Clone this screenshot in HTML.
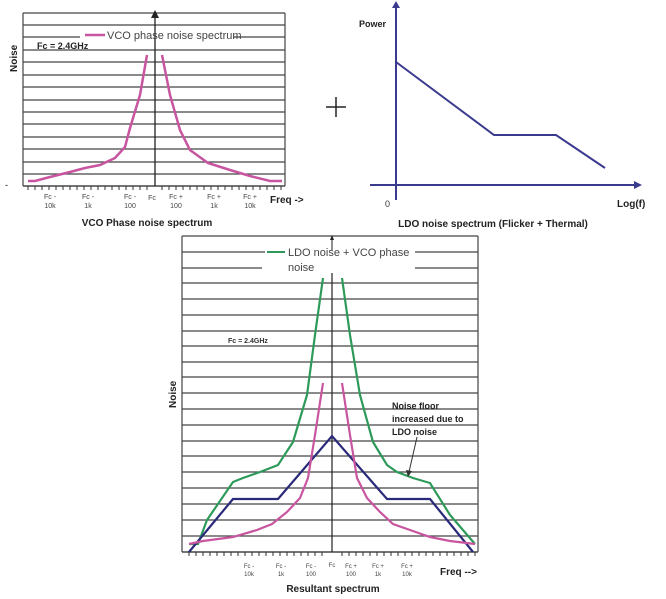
<!DOCTYPE html>
<html><head><meta charset="utf-8"><style>body{margin:0;background:#fff}svg{display:block}text{font-family:"Liberation Sans",sans-serif}</style></head><body>
<svg width="666" height="599" viewBox="0 0 666 599" xmlns="http://www.w3.org/2000/svg">
<g stroke="#444" stroke-width="1.2">
<line x1="23" y1="13" x2="285" y2="13"/><line x1="23" y1="25" x2="285" y2="25"/><line x1="23" y1="37" x2="80" y2="37"/><line x1="233" y1="37" x2="285" y2="37"/><line x1="23" y1="50" x2="285" y2="50"/><line x1="23" y1="62" x2="285" y2="62"/><line x1="23" y1="75" x2="285" y2="75"/><line x1="23" y1="87" x2="285" y2="87"/><line x1="23" y1="100" x2="285" y2="100"/><line x1="23" y1="112" x2="285" y2="112"/><line x1="23" y1="124" x2="285" y2="124"/><line x1="23" y1="137" x2="285" y2="137"/><line x1="23" y1="149" x2="285" y2="149"/><line x1="23" y1="162" x2="285" y2="162"/><line x1="23" y1="174" x2="285" y2="174"/>
<line x1="23" y1="186" x2="285" y2="186" stroke="#222"/>
<line x1="23" y1="13" x2="23" y2="186"/><line x1="285" y1="13" x2="285" y2="186"/>
</g>
<line x1="155" y1="16" x2="155" y2="186" stroke="#222" stroke-width="1.3"/>
<polygon points="151,18 159,18 155,10" fill="#222"/>
<g stroke="#333" stroke-width="1">
<path d="M28 186v4M35 186v4M42 186v4M49 186v4M56 186v4M63 186v4M70 186v4M77 186v4M84 186v4M91 186v4M98 186v4M105 186v4M112 186v4M119 186v4M126 186v4M133 186v4M140 186v4M147 186v4M162 186v4M169 186v4M176 186v4M183 186v4M190 186v4M197 186v4M204 186v4M211 186v4M218 186v4M225 186v4M232 186v4M239 186v4M246 186v4M253 186v4M260 186v4M267 186v4M274 186v4M281 186v4"/>
</g>
<polyline points="28,181 35,181 50,177 70,172 85,168 100,165 115,158 125,147 130,128 140,95 147,55" fill="none" stroke="#c8559f" stroke-width="2.5"/>
<polyline points="162,55 170,95 180,130 190,150 208,163 230,170 250,176 270,181 282,181" fill="none" stroke="#c8559f" stroke-width="2.5"/>
<line x1="85" y1="35" x2="105" y2="35" stroke="#c8559f" stroke-width="2.5"/>
<text x="107" y="39" font-size="11" fill="#444">VCO phase noise spectrum</text>
<text x="37" y="49" font-size="9" font-weight="bold" fill="#222">Fc = 2.4GHz</text>
<text transform="translate(17,72) rotate(-90)" font-size="10" font-weight="bold" fill="#222">Noise</text>
<text x="5" y="188" font-size="9">-</text>
<g font-size="7" fill="#444" text-anchor="middle">
<text x="50" y="199">Fc -</text><text x="50" y="208">10k</text>
<text x="88" y="199">Fc -</text><text x="88" y="208">1k</text>
<text x="130" y="199">Fc -</text><text x="130" y="208">100</text>
<text x="152" y="200">Fc</text>
<text x="176" y="199">Fc +</text><text x="176" y="208">100</text>
<text x="214" y="199">Fc +</text><text x="214" y="208">1k</text>
<text x="250" y="199">Fc +</text><text x="250" y="208">10k</text>
</g>
<text x="270" y="203" font-size="10" font-weight="bold" fill="#222">Freq -&gt;</text>
<text x="147" y="226" font-size="10" font-weight="bold" fill="#222" text-anchor="middle">VCO Phase noise spectrum</text>

<path d="M326 107h20M336 97v20" stroke="#222" stroke-width="1.5"/>

<line x1="396" y1="200" x2="396" y2="6" stroke="#3a3a8f" stroke-width="2"/>
<polygon points="392,8 400,8 396,1" fill="#3a3a8f"/>
<line x1="370" y1="185" x2="636" y2="185" stroke="#3a3a8f" stroke-width="2"/>
<polygon points="634,181 642,185 634,189" fill="#3a3a8f"/>
<polyline points="396,62 494,135 556,135 605,168" fill="none" stroke="#3a3a8f" stroke-width="2"/>
<text x="359" y="27" font-size="9" font-weight="bold" fill="#222">Power</text>
<text x="385" y="207" font-size="9" fill="#333">0</text>
<text x="617" y="207" font-size="10" font-weight="bold" fill="#222">Log(f)</text>
<text x="493" y="227" font-size="10" font-weight="bold" fill="#222" text-anchor="middle">LDO noise spectrum (Flicker + Thermal)</text>

<g stroke="#444" stroke-width="1.2">
<line x1="182" y1="236" x2="478" y2="236"/>
<line x1="182" y1="252" x2="265" y2="252"/><line x1="415" y1="252" x2="478" y2="252"/>
<line x1="182" y1="268" x2="262" y2="268"/><line x1="415" y1="268" x2="478" y2="268"/>
<line x1="182" y1="283" x2="478" y2="283"/><line x1="182" y1="299" x2="478" y2="299"/><line x1="182" y1="315" x2="478" y2="315"/><line x1="182" y1="331" x2="478" y2="331"/><line x1="182" y1="346" x2="478" y2="346"/><line x1="182" y1="362" x2="478" y2="362"/><line x1="182" y1="377" x2="478" y2="377"/><line x1="182" y1="393" x2="478" y2="393"/><line x1="182" y1="409" x2="478" y2="409"/><line x1="182" y1="425" x2="478" y2="425"/><line x1="182" y1="441" x2="478" y2="441"/><line x1="182" y1="456" x2="478" y2="456"/><line x1="182" y1="472" x2="478" y2="472"/><line x1="182" y1="488" x2="478" y2="488"/><line x1="182" y1="504" x2="478" y2="504"/><line x1="182" y1="520" x2="478" y2="520"/><line x1="182" y1="536" x2="478" y2="536"/>
<line x1="182" y1="552" x2="478" y2="552" stroke="#222"/>
<line x1="182" y1="236" x2="182" y2="552"/><line x1="478" y1="236" x2="478" y2="552"/>
</g>
<line x1="332" y1="240" x2="332" y2="250" stroke="#222"/>
<line x1="332" y1="273" x2="332" y2="552" stroke="#222" stroke-width="1.2"/>
<polygon points="330,240 334,240 332,235" fill="#222"/>
<g stroke="#333"><path d="M189 552v4M196 552v4M203 552v4M210 552v4M217 552v4M224 552v4M231 552v4M238 552v4M245 552v4M252 552v4M259 552v4M266 552v4M273 552v4M280 552v4M287 552v4M294 552v4M301 552v4M308 552v4M315 552v4M322 552v4M342 552v4M349 552v4M356 552v4M363 552v4M370 552v4M377 552v4M384 552v4M391 552v4M398 552v4M405 552v4M412 552v4M419 552v4M426 552v4M433 552v4M440 552v4M447 552v4M454 552v4M461 552v4M468 552v4M475 552v4"/></g>
<polyline points="189,544 198,544 207,520 233,482 243,478 260,472 278,465 293,442 307,395 315,335 323,278" fill="none" stroke="#2e9a5a" stroke-width="2.2"/>
<polyline points="342,278 350,335 360,395 373,442 387,465 397,472 413,478 430,483 450,515 475,544" fill="none" stroke="#2e9a5a" stroke-width="2.2"/>
<polyline points="189,552 233,499 278,499 332,436 387,499 430,499 473,552" fill="none" stroke="#2a2a7a" stroke-width="2.2"/>
<polyline points="189,544 203,541 233,537 257,530 272,524 287,512 300,498 308,478 315,435 323,383" fill="none" stroke="#c8559f" stroke-width="2.2"/>
<polyline points="342,383 350,435 357,478 367,498 380,512 393,524 410,530 430,537 450,541 475,544" fill="none" stroke="#c8559f" stroke-width="2.2"/>
<line x1="267" y1="252" x2="285" y2="252" stroke="#2e9a5a" stroke-width="2"/>
<text x="288" y="256" font-size="11" fill="#444">LDO noise + VCO phase</text>
<text x="288" y="271" font-size="11" fill="#444">noise</text>
<text x="228" y="343" font-size="7" font-weight="bold" fill="#333">Fc = 2.4GHz</text>
<text transform="translate(176,408) rotate(-90)" font-size="10" font-weight="bold" fill="#222">Noise</text>
<g font-size="9" font-weight="bold" fill="#222"><text x="392" y="409">Noise floor</text><text x="392" y="422">increased due to</text><text x="392" y="435">LDO noise</text></g>
<line x1="417" y1="437" x2="409" y2="472" stroke="#333"/>
<polygon points="406,470 412,471 408,477" fill="#333"/>
<g font-size="6" fill="#444" text-anchor="middle">
<text x="249" y="568">Fc -</text><text x="249" y="576">10k</text>
<text x="281" y="568">Fc -</text><text x="281" y="576">1k</text>
<text x="311" y="568">Fc -</text><text x="311" y="576">100</text>
<text x="332" y="567">Fc</text>
<text x="351" y="568">Fc +</text><text x="351" y="576">100</text>
<text x="378" y="568">Fc +</text><text x="378" y="576">1k</text>
<text x="407" y="568">Fc +</text><text x="407" y="576">10k</text>
</g>
<text x="440" y="575" font-size="10" font-weight="bold" fill="#222">Freq --&gt;</text>
<text x="333" y="592" font-size="10" font-weight="bold" fill="#222" text-anchor="middle">Resultant spectrum</text>
</svg>
</body></html>
